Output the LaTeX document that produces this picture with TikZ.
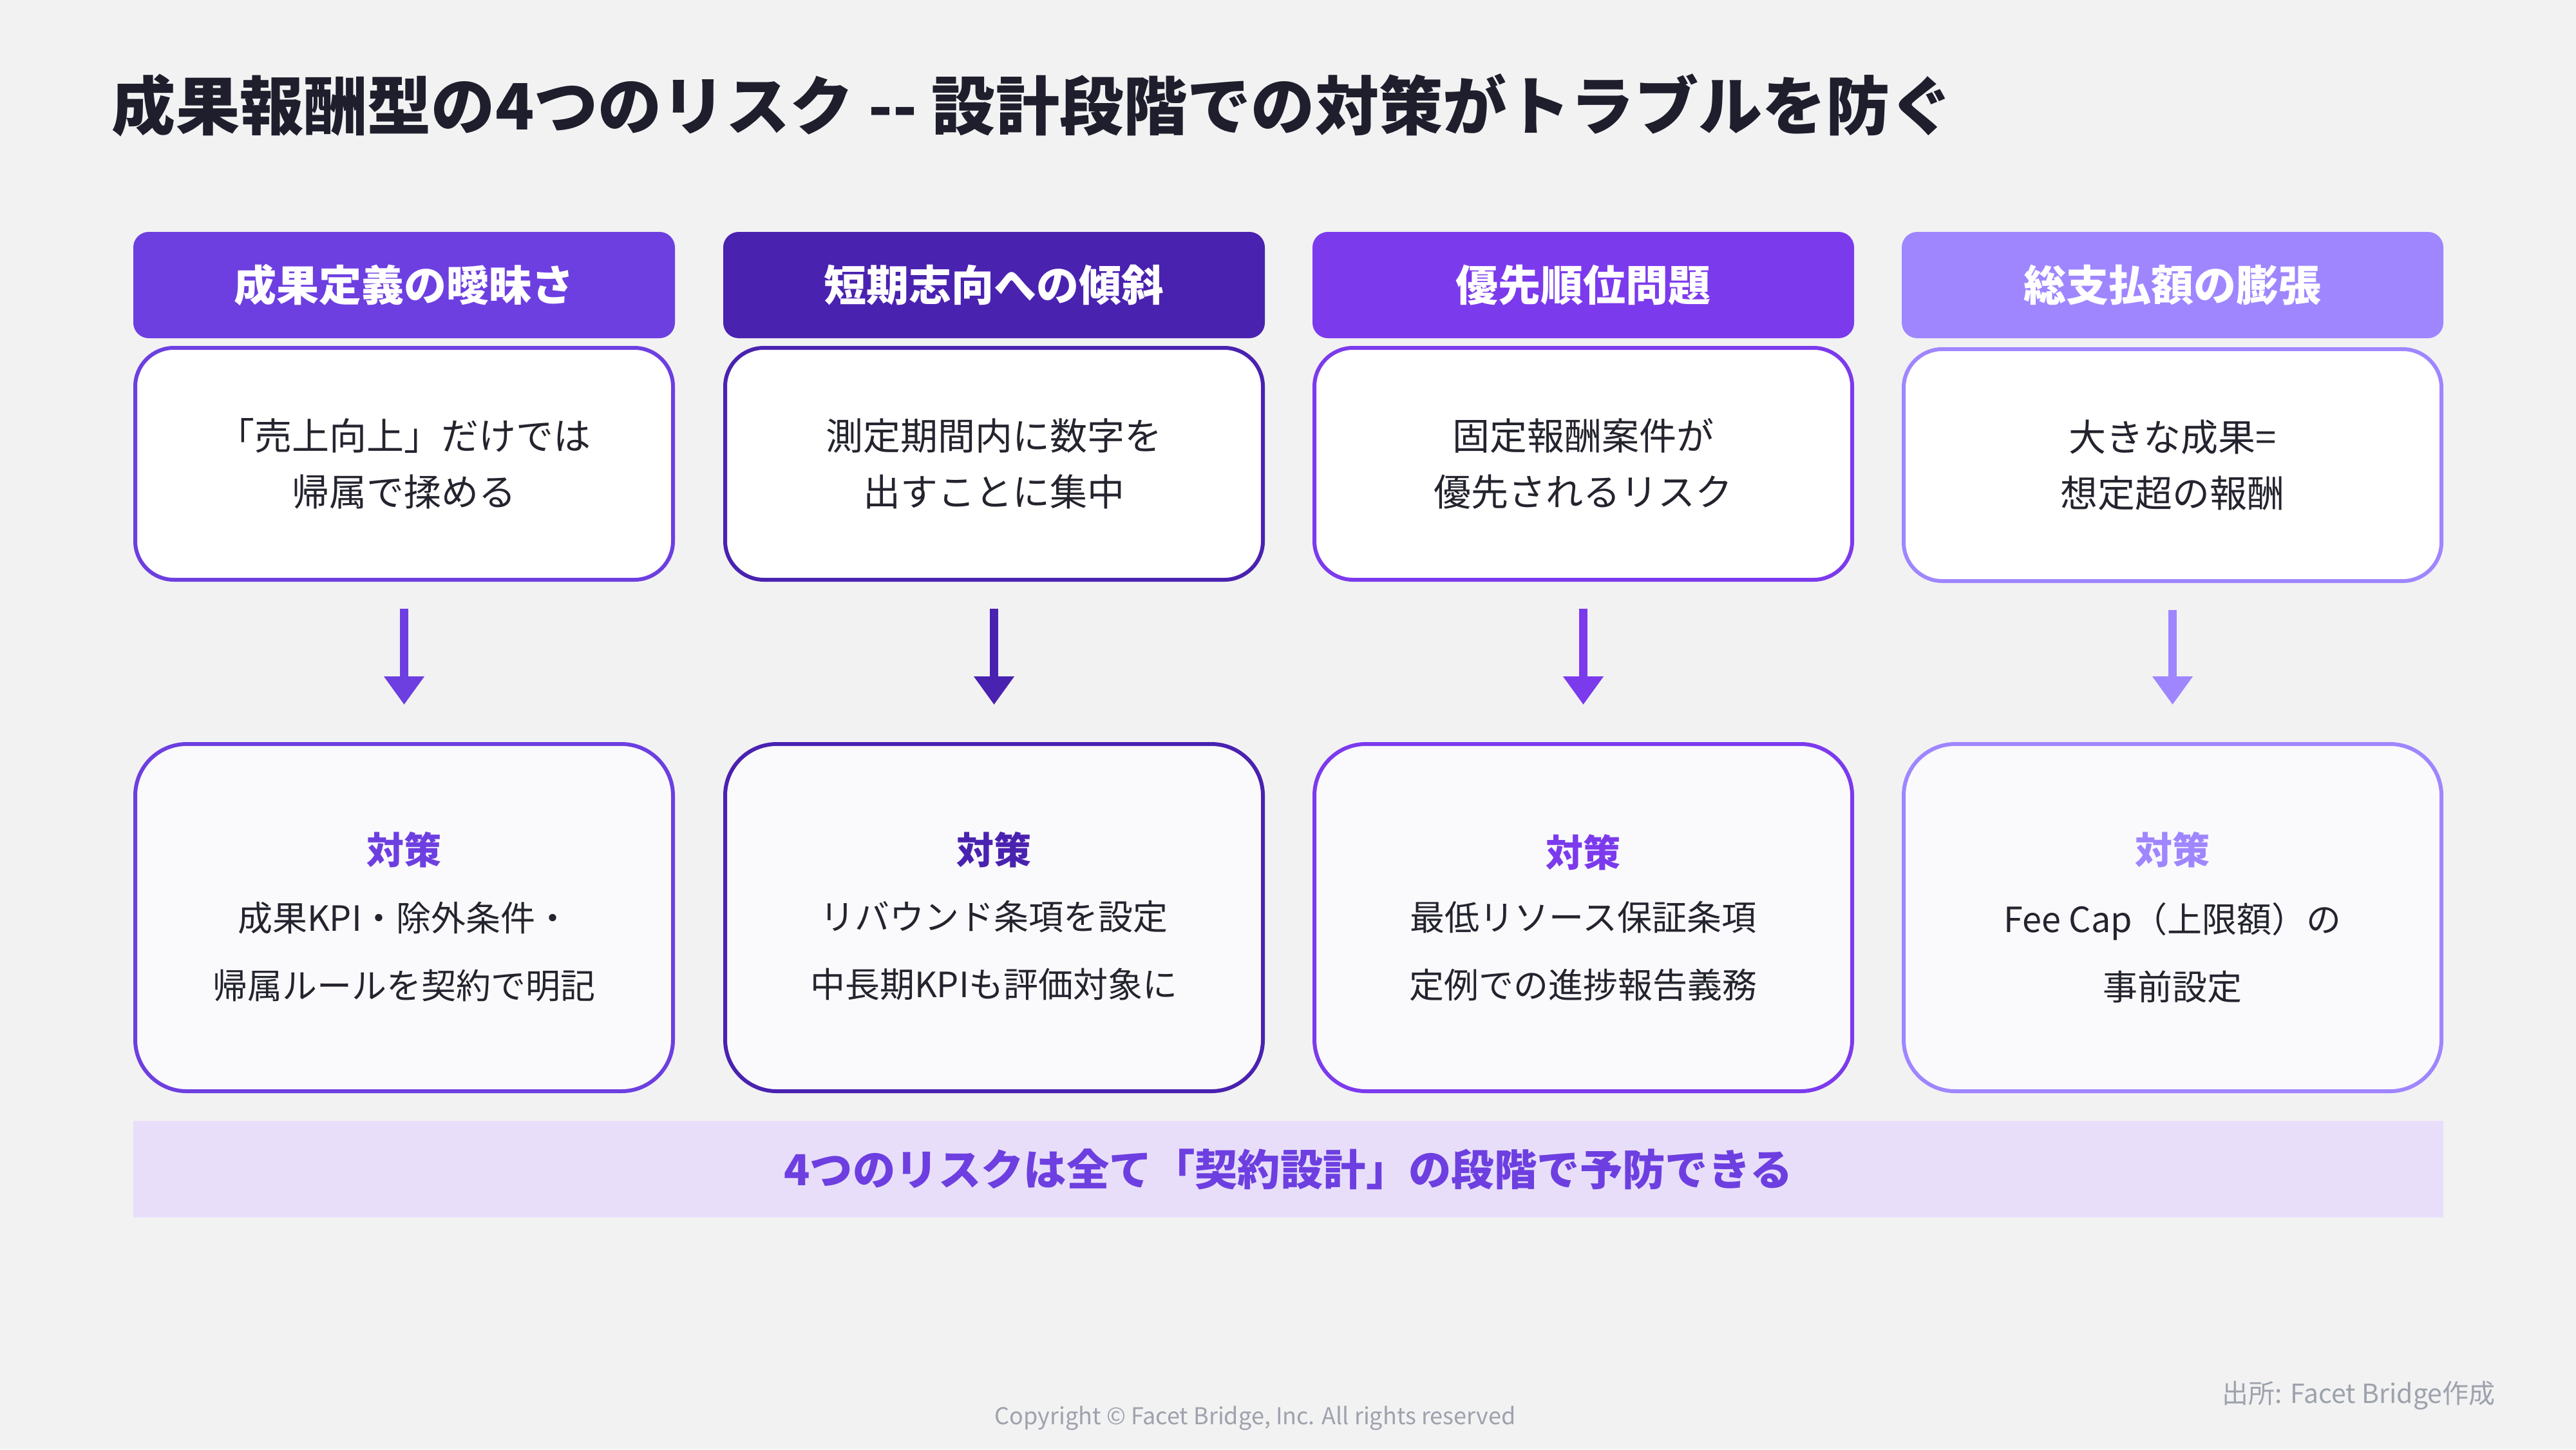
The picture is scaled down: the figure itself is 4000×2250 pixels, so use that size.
\documentclass[tikz,border=0pt]{standalone}
\usepackage{fontspec}
\setmainfont{Noto Sans CJK JP}
\usetikzlibrary{arrows.meta}
\definecolor{bg}{HTML}{F2F2F3}
\definecolor{ink}{HTML}{24242F}
\definecolor{heading}{HTML}{1E1E2C}
\definecolor{card}{HTML}{FAFAFC}
\definecolor{band}{HTML}{E8DEFA}
\definecolor{muted}{HTML}{9EA2AC}
\definecolor{riskA}{HTML}{6D3FE0}
\definecolor{riskB}{HTML}{4A22B0}
\definecolor{riskC}{HTML}{7C3AED}
\definecolor{riskD}{HTML}{9F86FF}
\begin{document}
\begin{tikzpicture}[x=0.25pt,y=-0.25pt,
		head/.style={rounded corners=6pt,minimum width=210.25pt,minimum height=41.25pt,inner sep=0pt,text=white,font=\fontsize{16.5pt}{20pt}\selectfont\bfseries},
		risk/.style={draw,line width=1.5pt,fill=white,rounded corners=15pt,minimum width=208.75pt,minimum height=90pt,inner sep=0pt,align=center,text=ink,font=\fontsize{14.5pt}{21.75pt}\selectfont},
		fix/.style={draw,line width=1.5pt,fill=card,rounded corners=20pt,minimum width=208.75pt,minimum height=134.75pt},
		fixtitle/.style={inner sep=0pt,font=\fontsize{14.5pt}{16pt}\selectfont\bfseries},
		fixtext/.style={inner sep=0pt,align=center,text=ink,font=\fontsize{13.5pt}{26.25pt}\selectfont},
		down/.style={line width=3.25pt,-{Triangle[width=15pt,length=11pt]},shorten <=10.5pt,shorten >=14.5pt}]
			\fill[bg] (0,0) rectangle (4000,2250);
			\useasboundingbox (0,0) rectangle (4000,2250);
			\node[anchor=west,inner sep=0pt,text=heading,font=\fontsize{24.8pt}{28pt}\selectfont\bfseries] (title) at (173,163) {成果報酬型の4つのリスク -\kern0pt- 設計段階での対策がトラブルを防ぐ};
			\node[head,fill=riskA] (H1) at (627.5,442.5) {成果定義の曖昧さ};
			\node[head,fill=riskB] (H2) at (1543.5,442.5) {短期志向への傾斜};
			\node[head,fill=riskC] (H3) at (2458.5,442.5) {優先順位問題};
			\node[head,fill=riskD] (H4) at (3373.5,442.5) {総支払額の膨張};
			\node[risk,draw=riskA] (R1) at (627.5,720) {「売上向上」だけでは\\帰属で揉める};
			\node[risk,draw=riskB] (R2) at (1543.5,720) {測定期間内に数字を\\出すことに集中};
			\node[risk,draw=riskC] (R3) at (2458.5,720) {固定報酬案件が\\優先されるリスク};
			\node[risk,draw=riskD] (R4) at (3373.5,722) {大きな成果=\\想定超の報酬};
			\node[fix,draw=riskA] (F1) at (627.5,1424.5) {};
			\node[fix,draw=riskB] (F2) at (1543.5,1424.5) {};
			\node[fix,draw=riskC] (F3) at (2458.5,1424.5) {};
			\node[fix,draw=riskD] (F4) at (3373.5,1424.5) {};
			\draw[down,riskA] (R1) -- (F1);
			\draw[down,riskB] (R2) -- (F2);
			\draw[down,riskC] (R3) -- (F3);
			\draw[down,riskD] (R4) -- (F4);
			\node[fixtitle,text=riskA] (T1) at (627.5,1319) {対策};
			\node[fixtitle,text=riskB] (T2) at (1543.5,1319) {対策};
			\node[fixtitle,text=riskC] (T3) at (2458.5,1323) {対策};
			\node[fixtitle,text=riskD] (T4) at (3373.5,1319) {対策};
			\node[fixtext] (B1) at (627.5,1478) {成果KPI・除外条件・\\帰属ルールを契約で明記};
			\node[fixtext] (B2) at (1543.5,1476) {リバウンド条項を設定\\中長期KPIも評価対象に};
			\node[fixtext] (B3) at (2458.5,1477) {最低リソース保証条項\\定例での進捗報告義務};
			\node[fixtext] (B4) at (3373.5,1479) {Fee Cap（上限額）の\\事前設定};
			\node[fill=band,minimum width=896.75pt,minimum height=37.5pt,inner sep=0pt,text=riskA,font=\fontsize{16.6pt}{20pt}\selectfont\bfseries] (S) at (2000.5,1815) {4つのリスクは全て「契約設計」の段階で予防できる};
			\node[text=muted,inner sep=0pt,font=\fontsize{9pt}{11pt}\selectfont] (copy) at (1949,2202) {Copyright © Facet Bridge, Inc. All rights reserved};
			\node[anchor=east,text=muted,inner sep=0pt,font=\fontsize{10.25pt}{12pt}\selectfont] (src) at (3875,2166) {出所: Facet Bridge作成};
		\end{tikzpicture}
\end{document}
